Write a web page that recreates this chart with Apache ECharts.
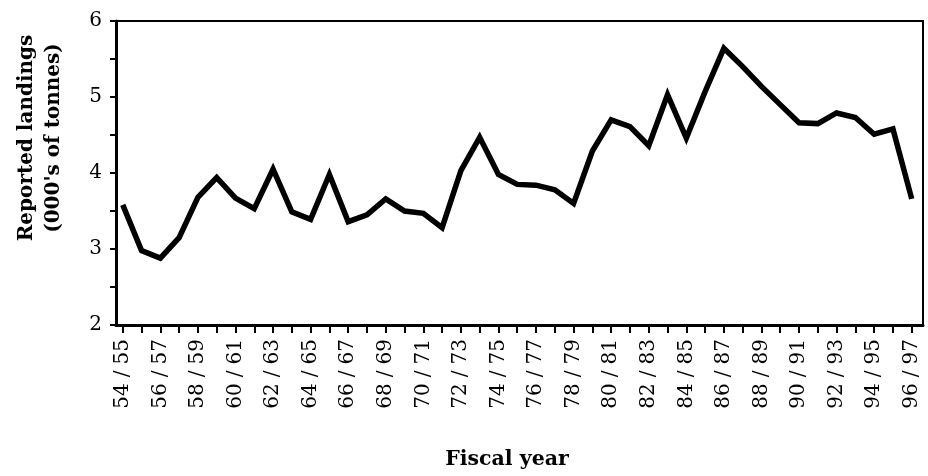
<!DOCTYPE html>
<html>
<head>
<meta charset="utf-8">
<script src="https://cdn.jsdelivr.net/npm/echarts@6/dist/echarts.min.js"></script>
<style>
  html, body { margin: 0; padding: 0; background: #fff; }
  #chart { width: 928px; height: 476px; }
</style>
</head>
<body>
<div id="chart"></div>
<script>
// fiscal years, 54/55 .. 96/97
const years = [
  '54/55', '55/56', '56/57', '57/58', '58/59', '59/60', '60/61', '61/62', '62/63', '63/64',
  '64/65', '65/66', '66/67', '67/68', '68/69', '69/70', '70/71', '71/72', '72/73', '73/74',
  '74/75', '75/76', '76/77', '77/78', '78/79', '79/80', '80/81', '81/82', '82/83', '83/84',
  '84/85', '85/86', '86/87', '87/88', '88/89', '89/90', '90/91', '91/92', '92/93', '93/94',
  '94/95', '95/96', '96/97'
];

// reported landings, 000's of tonnes
const landings = [
  3.58, 2.98, 2.88, 3.15, 3.68, 3.94, 3.67, 3.53, 4.05, 3.49,
  3.39, 3.98, 3.36, 3.45, 3.66, 3.50, 3.47, 3.28, 4.03, 4.47,
  3.98, 3.85, 3.84, 3.78, 3.60, 4.29, 4.70, 4.61, 4.36, 5.03,
  4.46, 5.07, 5.64, 5.40, 5.14, 4.90, 4.66, 4.65, 4.79, 4.73,
  4.51, 4.58, 3.66
];

const yTicks = [2, 3, 4, 5, 6];

const FONT = '"DejaVu Serif", "Liberation Serif", serif';

// positions along the year axis
const tickIdx = years.map((y, i) => i);
const labelIdx = tickIdx.filter(i => i % 2 === 0);

const chart = echarts.init(document.getElementById('chart'), null, { renderer: 'canvas' });

chart.setOption({
  animation: false,
  backgroundColor: '#fff',
  grid: {
    left: 116,
    right: 5,
    top: 21,
    bottom: 151,
    outerBoundsMode: 'none',
    containLabel: false,
    show: true,
    borderColor: '#000',
    borderWidth: 2,
    backgroundColor: 'transparent'
  },
  xAxis: {
    type: 'value',
    min: -0.36,
    max: 42.6,
    name: 'Fiscal year',
    nameLocation: 'middle',
    nameGap: 124,
    nameTextStyle: {
      fontFamily: FONT,
      fontWeight: 'bold',
      fontSize: 20.5,
      color: '#000',
      padding: [0, 25, 0, 0]
    },
    splitLine: { show: false },
    axisLine: { onZero: false, lineStyle: { color: '#000', width: 3 } },
    axisTick: {
      customValues: tickIdx,
      length: 8,
      lineStyle: { color: '#000', width: 2 }
    },
    axisLabel: {
      customValues: labelIdx,
      rotate: 90,
      margin: 14,
      fontFamily: FONT,
      fontSize: 20,
      color: '#000',
      formatter: v => years[Math.round(v)].replace('/', '{s|/}'),
      rich: {
        s: { fontFamily: FONT, fontSize: 20, color: '#000', padding: [0, 6] }
      }
    }
  },
  yAxis: {
    type: 'value',
    min: yTicks[0],
    max: yTicks[yTicks.length - 1],
    interval: 1,
    name: "Reported landings\n(000's of tonnes)",
    nameLocation: 'middle',
    nameGap: 49,
    nameTextStyle: {
      fontFamily: FONT,
      fontWeight: 'bold',
      fontSize: 20,
      lineHeight: 27,
      color: '#000',
      padding: [0, 0, 0, 70]
    },
    splitLine: { show: false },
    axisLine: { show: true, onZero: false, lineStyle: { color: '#000', width: 3 } },
    axisTick: { length: 6, lineStyle: { color: '#000', width: 2 } },
    minorTick: { show: true, splitNumber: 2, length: 6, lineStyle: { color: '#000', width: 2 } },
    axisLabel: {
      margin: 14,
      fontFamily: FONT,
      fontSize: 20,
      color: '#000'
    }
  },
  series: [{
    type: 'line',
    data: landings.map((v, i) => [i, v]),
    showSymbol: false,
    symbol: 'none',
    lineStyle: { color: '#000', width: 5.5, join: 'miter', cap: 'butt' }
  }]
});
</script>
</body>
</html>
